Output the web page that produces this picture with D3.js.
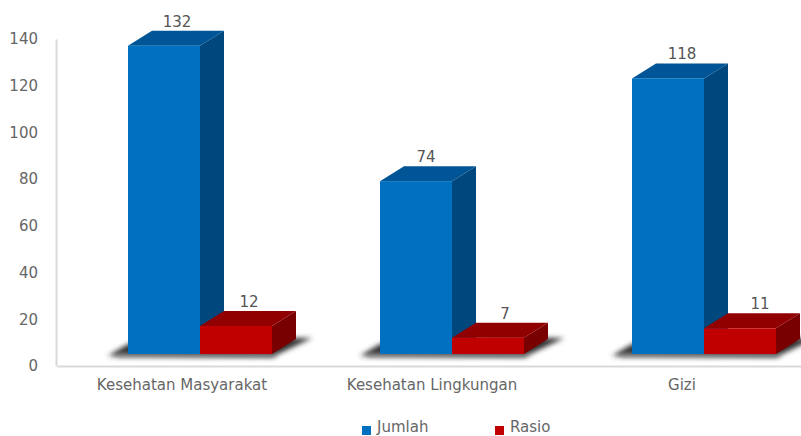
<!DOCTYPE html>
<html><head><meta charset="utf-8">
<script src="https://cdn.jsdelivr.net/npm/d3@7"></script>
<style>html,body{margin:0;padding:0;background:#fff}svg{display:block}text{font-family:"DejaVu Sans",sans-serif}</style>
</head><body><svg id="c" width="801" height="436"></svg>
<script>
const categories=["Kesehatan Masyarakat","Kesehatan Lingkungan","Gizi"];
const seriesNames=["Jumlah","Rasio"];
const jumlah=[132,74,118];
const rasio=[12,7,11];
const yTicks=[0,20,40,60,80,100,120,140];
const colors={Jumlah:{front:"#0070c0",top:"#005596",side:"#00477e"},Rasio:{front:"#c00000",top:"#900000",side:"#780000"}};
const labelNudge={Jumlah:[0,-3,1],Rasio:[0,4,7]};

const svg=d3.select("#c");
const defs=svg.append("defs");
defs.append("filter").attr("id","blur").attr("x","-20%").attr("y","-200%").attr("width","140%").attr("height","500%")
  .append("feGaussianBlur").attr("stdDeviation","2.6");
const y=d3.scaleLinear().domain([0,140]).range([366,39]);
const x=d3.scaleBand().domain(categories).range([56,812]);
const xLabels=d3.scaleBand().domain(categories).range([57,807]);
const inner=d3.scaleBand().domain(seriesNames).range([0,144]);
const barOffset=72, baseLift=12, dx=24, dy=15, fs="15px";
const fy=v=>y(v)-baseLift;
const seriesVals={Jumlah:jumlah,Rasio:rasio};

// axes
const gy=svg.append("g").attr("transform","translate(56,0)").call(d3.axisLeft(y).tickValues(yTicks).tickSize(0).tickPadding(18));
gy.select(".domain").attr("stroke","#d9d9d9").attr("stroke-width",2);
gy.selectAll("text").attr("fill","#666").style("font-size",fs);
const gx=svg.append("g").attr("transform","translate(0,366)").call(d3.axisBottom(xLabels).tickSize(0).tickPadding(13));
gx.select(".domain").attr("stroke","#d9d9d9").attr("stroke-width",2);
gx.selectAll("text").attr("fill","#666").style("font-size",fs);

// floor shadows
categories.forEach(c=>{
  const x0=x(c)+barOffset, base=fy(0);
  svg.append("path").attr("filter","url(#blur)").attr("fill","#333")
    .attr("d",d3.line()([[x0-20,base+2],[x0,base-10],[x0+144+22,base-16],[x0+144+40,base-16],[x0+144,base+3]])+"Z");
  svg.append("rect").attr("x",x0-12).attr("y",base).attr("width",160).attr("height",3).attr("fill","#888").attr("filter","url(#blur)");
});

// bars
seriesNames.forEach(s=>{
  categories.forEach((c,i)=>{
    const v=seriesVals[s][i];
    const x0=x(c)+barOffset+inner(s), w=inner.bandwidth(), t=fy(v), b=fy(0), col=colors[s];
    const g=svg.append("g");
    g.append("path").attr("fill",col.side).attr("d",d3.line()([[x0+w,t],[x0+w+dx,t-dy],[x0+w+dx,b-dy],[x0+w,b]])+"Z");
    g.append("path").attr("fill",col.top).attr("d",d3.line()([[x0,t],[x0+dx,t-dy],[x0+w+dx,t-dy],[x0+w,t]])+"Z");
    g.append("rect").attr("x",x0).attr("y",t).attr("width",w).attr("height",b-t).attr("fill",col.front);
    svg.append("text").attr("x",x0+w/2+13+labelNudge[s][i]).attr("y",t-dy-4).attr("text-anchor","middle")
      .attr("fill","#555").style("font-size",fs).text(v);
  });
});

// legend
const legendX=[362,495];
seriesNames.forEach((s,i)=>{
  svg.append("rect").attr("x",legendX[i]).attr("y",426).attr("width",9).attr("height",9).attr("fill",colors[s].front);
  svg.append("text").attr("x",legendX[i]+15).attr("y",432.4).attr("fill","#666").style("font-size",fs).text(s);
});
</script></body></html>
